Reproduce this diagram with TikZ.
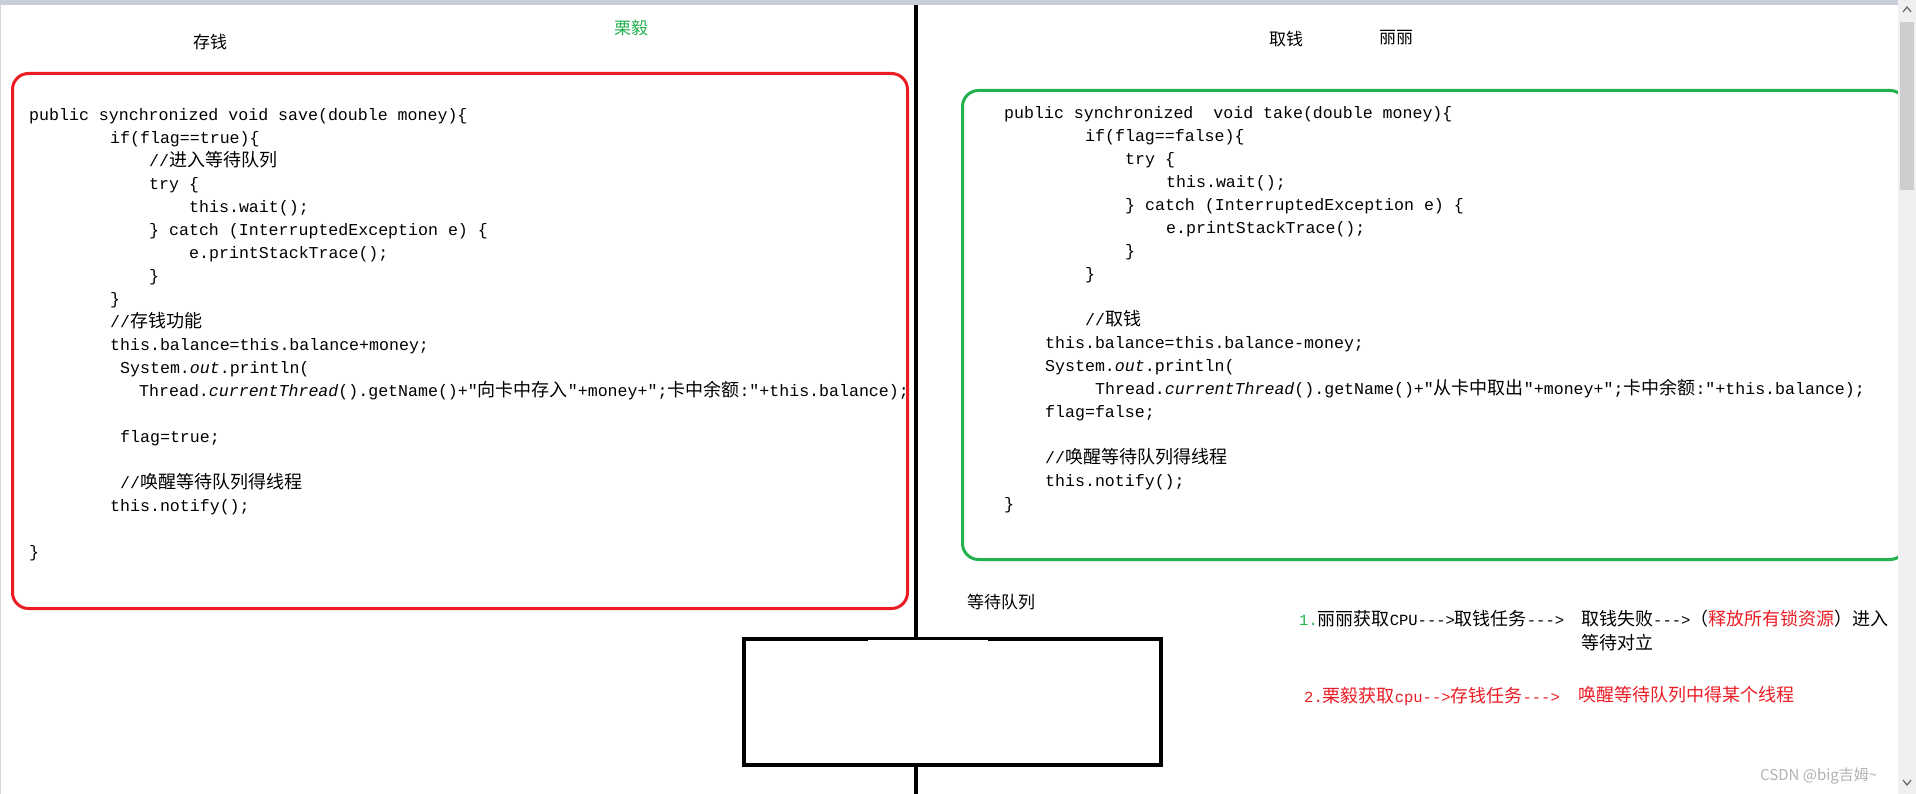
\documentclass[tikz,border=0pt]{standalone}
\usepackage{fontspec}
\setmainfont{Liberation Sans}
\newfontfamily\codefont{Liberation Mono}
\newfontfamily\cjk{Noto Sans CJK SC}
\definecolor{boxred}{HTML}{ED1C24}
\definecolor{boxgreen}{HTML}{22B14C}
\definecolor{topbar}{HTML}{C9CEDC}
\definecolor{scrollbg}{HTML}{F0F0F0}
\definecolor{scrollthumb}{HTML}{CDCDCD}
\def\zh#1{{\cjk\fontsize{18}{20}\selectfont #1}}
\def\zn#1{{\cjk\fontsize{18}{20}\selectfont #1}}
\tikzset{
  code/.style={anchor=west, inner sep=0pt, text height=13pt, text depth=4pt,
    font=\codefont\fontsize{16.6}{20}\selectfont},
  note/.style={anchor=west, inner sep=0pt, text height=13pt, text depth=4pt,
    font=\codefont\fontsize{15.5}{20}\selectfont},
  heading/.style={inner sep=0pt, font=\cjk\fontsize{17}{20}\selectfont},
  methodbox/.style={line width=3pt, rounded corners=16pt},
  divider/.style={line width=4pt},
  queuebox/.style={draw, line width=4.5pt, minimum width=417pt, minimum height=126pt}
}
\begin{document}
\begin{tikzpicture}[x=1pt,y=-1pt]
  \useasboundingbox (0,0) rectangle (1916,794);
  \fill[white] (0,0) rectangle (1916,794);
  \fill[topbar] (0,0) rectangle (1898,5);
  \draw[black!15] (0.5,5) -- (0.5,794);
  \draw[methodbox, boxred] (12.5,73.5) rectangle (907.5,608.5);
  \draw[methodbox, boxgreen] (962.5,90.5) rectangle (1906,559.5);
  \node[heading] (saveTitle) at (210,42) {存钱};
  \node[heading, text=boxgreen] (nameLiyi) at (631,28) {栗毅};
  \node[heading] (takeTitle) at (1286,39) {取钱};
  \node[heading] (nameLili) at (1396,38) {丽丽};
  \node[heading] (queueLabel) at (1001,602) {等待队列};
  \node[code] (s1) at (29,116) {public synchronized void save(double money)\{};
  \node[code] (s2) at (110,139) {if(flag==true)\{};
  \node[code] (s3) at (149,162) {//\zh{进入等待队列}};
  \node[code] (s4) at (149,185) {try \{};
  \node[code] (s5) at (189,208) {this.wait();};
  \node[code] (s6) at (149,231) {\} catch (InterruptedException e) \{};
  \node[code] (s7) at (189,254) {e.printStackTrace();};
  \node[code] (s8) at (149,277) {\}};
  \node[code] (s9) at (110,300) {\}};
  \node[code] (s10) at (110,323) {//\zh{存钱功能}};
  \node[code] (s11) at (110,346) {this.balance=this.balance+money;};
  \node[code] (s12) at (120,369) {System.\textit{out}.println(};
  \node[code] (s13) at (139,392) {Thread.\textit{currentThread}().getName()+"\zh{向卡中存入}"+money+";\zh{卡中余额}:"+this.balance);};
  \node[code] (s14) at (120,438) {flag=true;};
  \node[code] (s15) at (120,484) {//\zh{唤醒等待队列得线程}};
  \node[code] (s16) at (110,507) {this.notify();};
  \node[code] (s17) at (29,553) {\}};
  \node[code] (t1) at (1004,114) {public synchronized\ \ void take(double money)\{};
  \node[code] (t2) at (1085,137) {if(flag==false)\{};
  \node[code] (t3) at (1125,160) {try \{};
  \node[code] (t4) at (1166,183) {this.wait();};
  \node[code] (t5) at (1125,206) {\} catch (InterruptedException e) \{};
  \node[code] (t6) at (1166,229) {e.printStackTrace();};
  \node[code] (t7) at (1125,252) {\}};
  \node[code] (t8) at (1085,275) {\}};
  \node[code] (t9) at (1085,321) {//\zh{取钱}};
  \node[code] (t10) at (1045,344) {this.balance=this.balance-money;};
  \node[code] (t11) at (1045,367) {System.\textit{out}.println(};
  \node[code] (t12) at (1095,390) {Thread.\textit{currentThread}().getName()+"\zh{从卡中取出}"+money+";\zh{卡中余额}:"+this.balance);};
  \node[code] (t13) at (1045,413) {flag=false;};
  \node[code] (t14) at (1045,459) {//\zh{唤醒等待队列得线程}};
  \node[code] (t15) at (1045,482) {this.notify();};
  \node[code] (t16) at (1004,505) {\}};
  \node[queuebox] (queue) at (952.5,702) {};
  \fill[white] (868,639.5) rectangle (988,641.8);
  \coordinate (vtop) at (916,5);
  \coordinate (vbot) at (916,794);
  \draw[divider] (vtop) -- (vtop |- queue.north);
  \draw[divider] (vtop |- queue.south) -- (vbot);
  \node[note] (n1a) at (1299,621) {\textcolor{boxgreen}{1.}\zn{丽丽获取}CPU-{}-{}->\zn{取钱任务}-{}-{}->};
  \node[note] (n1b) at (1581,621) {\zn{取钱失败}-{}-{}->\zn{（\textcolor{boxred}{释放所有锁资源}）进入}};
  \node[note] (n1c) at (1581,645) {\zn{等待对立}};
  \node[note, text=boxred] (n2a) at (1304,698) {2.\zn{栗毅获取}cpu-{}->\zn{存钱任务}-{}-{}->};
  \node[note, text=boxred] (n2b) at (1578,697) {\zn{唤醒等待队列中得某个线程}};
  \fill[scrollbg] (1898,0) rectangle (1916,794);
  \fill[scrollthumb] (1900,22) rectangle (1914,190);
  \draw[black!60, line width=1.2pt] (1903,12) -- (1907,7) -- (1911,12);
  \draw[black!60, line width=1.2pt] (1903,780) -- (1907,785) -- (1911,780);
  \node[anchor=west, inner sep=0pt, text=black!30, font=\cjk\fontsize{15}{18}\selectfont] (mark) at (1760,776) {CSDN @big吉姆\textasciitilde};
\end{tikzpicture}
\end{document}
